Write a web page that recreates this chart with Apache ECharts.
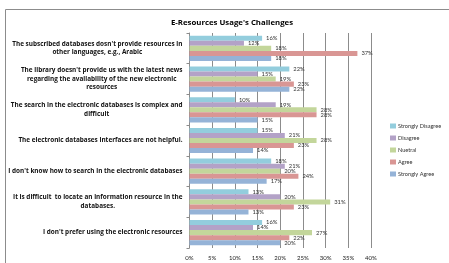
<!DOCTYPE html>
<html><head><meta charset="utf-8">
<script src="https://cdn.jsdelivr.net/npm/echarts@6/dist/echarts.min.js"></script>
<style>html,body{margin:0;padding:0;background:#fff}#c{width:449px;height:263px}</style>
</head><body><div id="c"></div>
<script>
const categories = [
  "The subscribed databases dosn't provide resources in\nother languages, e.g., Arabic",
  "The library doesn't provide us with the latest news\nregarding the availability of the new electronic\nresources",
  "The search in the electronic databases is complex and\ndifficult",
  "The electronic databases interfaces are not helpful.",
  "I don't know how to search in the electronic databases",
  "It is difficult  to locate an information resource in the\ndatabases.",
  "I don't prefer using the electronic resources"
];
const seriesNames = ["Strongly Disagree", "Disagree", "Nuetral", "Agree", "Strongly Agree"];
const stronglyDisagree = [16, 22, 10, 15, 18, 13, 16];
const disagree = [12, 15, 19, 21, 21, 20, 14];
const neutral = [18, 19, 28, 28, 20, 31, 27];
const agree = [37, 23, 28, 23, 24, 23, 22];
const stronglyAgree = [18, 22, 15, 14, 17, 13, 20];
const xTicks = [0, 5, 10, 15, 20, 25, 30, 35, 40];

const colors = ["#93cddd", "#b3a2c7", "#c3d69b", "#d99694", "#95b3d7"];
const values = [stronglyDisagree, disagree, neutral, agree, stronglyAgree];
const font = "Lato, 'Open Sans', sans-serif";
const boldFont = "'Open Sans', sans-serif";

const chart = echarts.init(document.getElementById('c'), null, {renderer: 'canvas'});
chart.setOption({
  animation: false,
  title: {
    text: "E-Resources Usage's Challenges",
    left: 227, top: 14, textAlign: 'center',
    textStyle: {fontFamily: boldFont, fontSize: 7.8, fontWeight: 'bold', color: '#000'}
  },
  graphic: [{
    type: 'rect', shape: {x: 5.5, y: 9.5, width: 460, height: 270},
    style: {fill: 'none', stroke: '#8c8c8c', lineWidth: 1}, silent: true
  }],
  legend: {
    orient: 'vertical', left: 385, top: 118,
    itemWidth: 6, itemHeight: 5, itemGap: 6,
    icon: 'rect',
    textStyle: {fontFamily: font, fontSize: 5.6, color: '#333', padding: [0, 0, 0, -3]},
    data: seriesNames
  },
  grid: {left: 189.5, right: 78, top: 33, bottom: 15, containLabel: false},
  xAxis: {
    type: 'value', min: 0, max: 40, interval: 5,
    axisLabel: {formatter: v => v + '%', fontFamily: font, fontSize: 6, color: '#222', margin: 7},
    axisLine: {show: false}, axisTick: {show: false},
    splitLine: {show: true, lineStyle: {color: '#8c8c8c', width: 1}}
  },
  yAxis: {
    type: 'category', inverse: true, data: categories,
    axisLine: {show: true, lineStyle: {color: '#8c8c8c'}},
    axisTick: {show: true, length: 3, lineStyle: {color: '#8c8c8c'}},
    axisLabel: {
      margin: 7, align: 'right', fontWeight: 'bold', fontFamily: boldFont, fontSize: 6.4,
      formatter: v => v.split('\n').map(l => '{c|' + l + '}').join('\n'),
      rich: {c: {align: 'center', fontFamily: boldFont, fontSize: 6.4, fontWeight: 'bold', color: '#111', lineHeight: 8.5}}
    }
  },
  series: seriesNames.map((n, i) => ({
    name: n, type: 'bar', data: values[i],
    itemStyle: {color: colors[i]},
    barGap: '0%', barCategoryGap: '18%',
    label: {show: true, position: 'right', formatter: p => p.value + '%', fontFamily: font, fontSize: 5.8, color: '#333', distance: 4}
  }))
});
</script></body></html>
